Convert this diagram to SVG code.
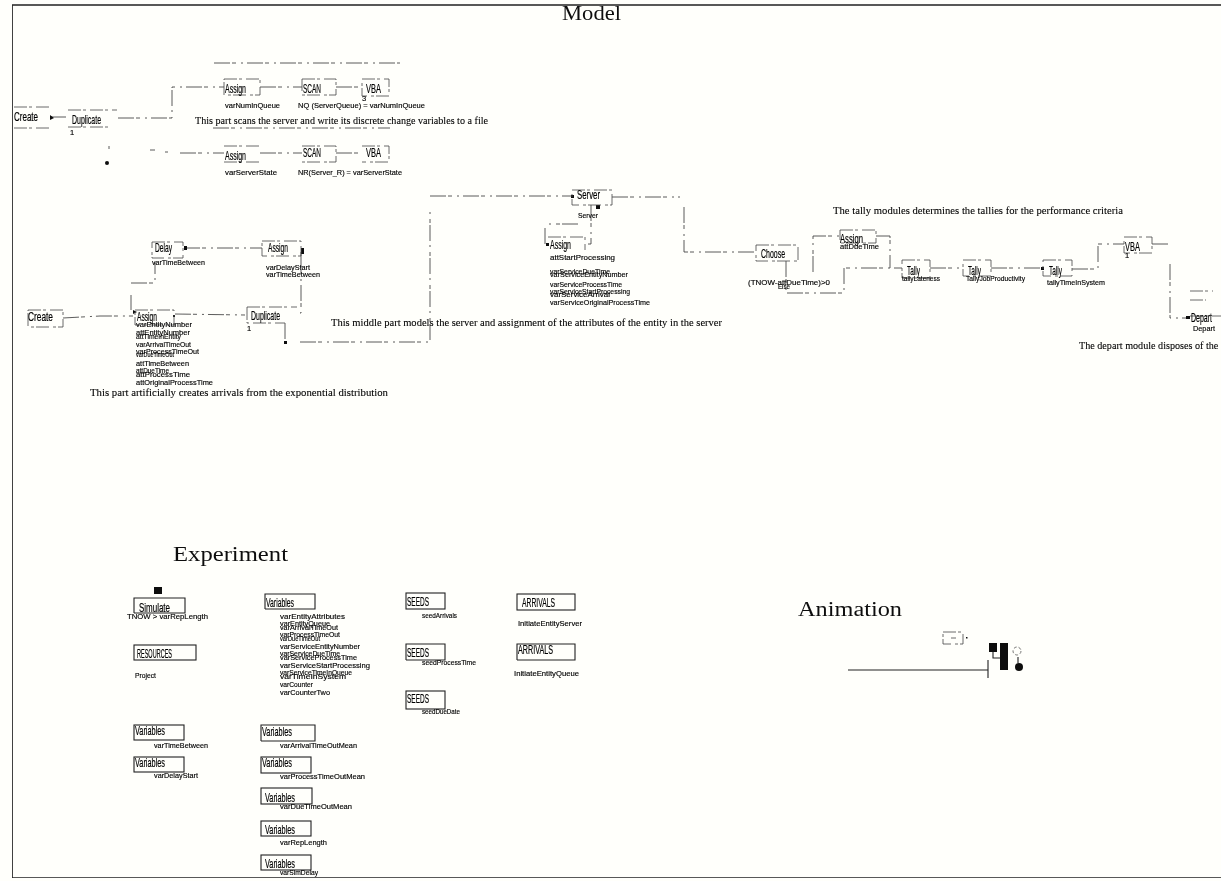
<svg xmlns="http://www.w3.org/2000/svg" width="1221" height="881" viewBox="0 0 1221 881">
<style>
.n{fill:none;stroke:#444;stroke-width:.8;stroke-dasharray:13 2 3 4}
.s{fill:none;stroke:#222;stroke-width:1.1}
.c{fill:none;stroke:#333;stroke-width:.8;stroke-dasharray:16 2 4 5 2 4}
.k{fill:#111;stroke:none}
.t{font:13px "Liberation Sans",sans-serif;fill:#000;stroke:#000;stroke-width:.2}
.l{font:7.5px "Liberation Sans",sans-serif;fill:#000;stroke:#000;stroke-width:.15}
.d{font:10.5px "Liberation Serif",serif;fill:#000;stroke:#000;stroke-width:.1}
.h{font:20px "Liberation Serif",serif;fill:#111}
</style>
<defs><filter id="b" x="0" y="0" width="100%" height="100%"><feGaussianBlur stdDeviation=".3"/></filter></defs>
<rect width="1221" height="881" fill="#fffffb"/>
<g filter="url(#b)">
<path id="frame" d="M1221 5H12V878H1221" fill="none" stroke="#222" stroke-width="1.7"/>
<g id="titles">
<text class="h" x="562" y="20" textLength="59" lengthAdjust="spacingAndGlyphs">Model</text>
<text class="h" x="173" y="561" textLength="115" lengthAdjust="spacingAndGlyphs">Experiment</text>
<text class="h" x="798" y="616" textLength="104" lengthAdjust="spacingAndGlyphs">Animation</text>
</g>
<g id="descriptions">
<text class="d" x="195" y="124" textLength="293" lengthAdjust="spacingAndGlyphs">This part scans the server and write its discrete change variables to a file</text>
<text class="d" x="90" y="396" textLength="298" lengthAdjust="spacingAndGlyphs">This part artificially creates arrivals from the exponential distribution</text>
<text class="d" x="331" y="326" textLength="391" lengthAdjust="spacingAndGlyphs">This middle part models the server and assignment of the attributes of the entity in the server</text>
<text class="d" x="833" y="214" textLength="290" lengthAdjust="spacingAndGlyphs">The tally modules determines the tallies for the performance criteria</text>
<text class="d" x="1079" y="349" textLength="165" lengthAdjust="spacingAndGlyphs">The depart module disposes of the entity</text>
</g>
<g id="connectors">
<path class="c" d="M118 118H172V87H224M260 87H302M336 87H362"/>
<path class="c" d="M214 63H400M213 128H390"/>
<path class="c" d="M50 117H68M109 146v3M150 150h5M165 152h3M180 153H224M260 153H302M336 153H362"/>
<path class="c" d="M63 318L100 316H133M175 314L245 315"/>
<path class="c" d="M131 310V295M131 283H155V262M184 248H262"/>
<path class="c" d="M301 252V313H297M285 323V342M300 342H430V212"/>
<path class="c" d="M430 196H572M612 197H680M684 207V252H756"/>
<path class="c" d="M591 205V244H588M578 224H548M545 228V245"/>
<path class="c" d="M786 261V293H844V268H902M813 272V236H840M876 236H890V268"/>
<path class="c" d="M930 268H963M991 268H1043M1072 269H1098V244H1124M1152 244H1170M1170 264V318H1186"/>
<path class="k" d="M50 115l4 3-4 2zM133 310l4 2-4 2zM301 248h3v6h-3zM284 341h3v3h-3zM571 195h3v3h-3zM596 205h4v4h-4zM546 243h3v3h-3zM184 246h3v4h-3zM1041 267h3v3h-3zM1186 316h4v3h-4zM173 315h2v2h-2z"/>
<circle class="k" cx="107" cy="163" r="2"/>
</g>
<g id="create1"><path class="n" d="M14 107H50M14 128H50"/><text class="t" x="14" y="121" textLength="24" lengthAdjust="spacingAndGlyphs">Create</text></g>
<g id="duplicate1"><path class="n" d="M68 110H117M68 127H112"/><text class="t" x="72" y="124" textLength="29" lengthAdjust="spacingAndGlyphs">Duplicate</text><text class="l" x="70" y="135">1</text></g>
<g id="assign1"><path class="n" d="M224 79H260V95H224z"/><text class="t" x="225" y="93" textLength="21" lengthAdjust="spacingAndGlyphs">Assign</text><text class="l" x="225" y="108" textLength="55" lengthAdjust="spacingAndGlyphs">varNumInQueue</text></g>
<g id="scan1"><path class="n" d="M302 79H336V95H302z"/><text class="t" x="303" y="93" textLength="18" lengthAdjust="spacingAndGlyphs">SCAN</text><text class="l" x="298" y="108" textLength="127" lengthAdjust="spacingAndGlyphs">NQ (ServerQueue) = varNumInQueue</text></g>
<g id="vba1"><path class="n" d="M362 79H389V96H362z"/><text class="t" x="366" y="93" textLength="15" lengthAdjust="spacingAndGlyphs">VBA</text><text class="l" x="362" y="101">3</text></g>
<g id="assign2"><path class="n" d="M224 146H260M224 162H260"/><text class="t" x="225" y="160" textLength="21" lengthAdjust="spacingAndGlyphs">Assign</text><text class="l" x="225" y="175" textLength="52" lengthAdjust="spacingAndGlyphs">varServerState</text></g>
<g id="scan2"><path class="n" d="M302 146H336V162H302"/><text class="t" x="303" y="157" textLength="18" lengthAdjust="spacingAndGlyphs">SCAN</text><text class="l" x="298" y="175" textLength="104" lengthAdjust="spacingAndGlyphs">NR(Server_R) = varServerState</text></g>
<g id="vba2"><path class="n" d="M362 146H389V162H362"/><text class="t" x="366" y="157" textLength="15" lengthAdjust="spacingAndGlyphs">VBA</text></g>
<g id="delay"><path class="n" d="M152 242H183V258H152z"/><text class="t" x="155" y="252" textLength="17" lengthAdjust="spacingAndGlyphs">Delay</text><text class="l" x="152" y="265" textLength="53" lengthAdjust="spacingAndGlyphs">varTimeBetween</text></g>
<g id="assign3"><path class="n" d="M262 241H301V256H262z"/><text class="t" x="268" y="252" textLength="20" lengthAdjust="spacingAndGlyphs">Assign</text><text class="l" x="266" y="270" textLength="44" lengthAdjust="spacingAndGlyphs">varDelayStart</text><text class="l" x="266" y="277" textLength="54" lengthAdjust="spacingAndGlyphs">varTimeBetween</text></g>
<g id="create2"><path class="n" d="M28 310H63V327H28z"/><text class="t" x="28" y="321" textLength="25" lengthAdjust="spacingAndGlyphs">Create</text></g>
<g id="assign4"><path class="n" d="M135 310H174V325H135z"/><text class="t" x="137" y="321" textLength="20" lengthAdjust="spacingAndGlyphs">Assign</text>
<text class="l" x="136" y="327" textLength="56" lengthAdjust="spacingAndGlyphs">varEntityNumber</text>
<text class="l" x="136" y="335" textLength="54" lengthAdjust="spacingAndGlyphs">attEntityNumber</text>
<text class="l" x="136" y="339" textLength="45" lengthAdjust="spacingAndGlyphs">attTimeInEntity</text>
<text class="l" x="136" y="347" textLength="55" lengthAdjust="spacingAndGlyphs">varArrivalTimeOut</text>
<text class="l" x="136" y="354" textLength="63" lengthAdjust="spacingAndGlyphs">varProcessTimeOut</text>
<text class="l" x="136" y="357" textLength="38" lengthAdjust="spacingAndGlyphs">varDueTimeOut</text>
<text class="l" x="136" y="366" textLength="53" lengthAdjust="spacingAndGlyphs">attTimeBetween</text>
<text class="l" x="136" y="373" textLength="33" lengthAdjust="spacingAndGlyphs">attDueTime</text>
<text class="l" x="136" y="377" textLength="54" lengthAdjust="spacingAndGlyphs">attProcessTime</text>
<text class="l" x="136" y="385" textLength="77" lengthAdjust="spacingAndGlyphs">attOriginalProcessTime</text></g>
<g id="duplicate2"><path class="n" d="M247 307H297M247 307V323H285"/><text class="t" x="251" y="320" textLength="29" lengthAdjust="spacingAndGlyphs">Duplicate</text><text class="l" x="247" y="331">1</text></g>
<g id="server"><path class="n" d="M572 190H612V205H572z"/><text class="t" x="577" y="199" textLength="23" lengthAdjust="spacingAndGlyphs">Server</text><text class="l" x="578" y="218" textLength="20" lengthAdjust="spacingAndGlyphs">Server</text></g>
<g id="assign5"><path class="n" d="M548 237H585V250"/><text class="t" x="550" y="249" textLength="21" lengthAdjust="spacingAndGlyphs">Assign</text>
<text class="l" x="550" y="260" textLength="65" lengthAdjust="spacingAndGlyphs">attStartProcessing</text>
<text class="l" x="550" y="274" textLength="60" lengthAdjust="spacingAndGlyphs">varServiceDueTime</text>
<text class="l" x="550" y="277" textLength="78" lengthAdjust="spacingAndGlyphs">varServiceEntityNumber</text>
<text class="l" x="550" y="287" textLength="72" lengthAdjust="spacingAndGlyphs">varServiceProcessTime</text>
<text class="l" x="550" y="294" textLength="80" lengthAdjust="spacingAndGlyphs">varServiceStartProcessing</text>
<text class="l" x="550" y="297" textLength="60" lengthAdjust="spacingAndGlyphs">varServiceArrival</text>
<text class="l" x="550" y="305" textLength="100" lengthAdjust="spacingAndGlyphs">varServiceOriginalProcessTime</text></g>
<g id="choose"><path class="n" d="M756 245H798V261H756z"/><text class="t" x="761" y="258" textLength="24" lengthAdjust="spacingAndGlyphs">Choose</text><text class="l" x="748" y="285" textLength="82" lengthAdjust="spacingAndGlyphs">(TNOW-attDueTime)&gt;0</text><text class="l" x="778" y="289" textLength="12" lengthAdjust="spacingAndGlyphs">Else</text></g>
<g id="assign6"><path class="n" d="M840 230H876V243H840z"/><text class="t" x="840" y="243" textLength="23" lengthAdjust="spacingAndGlyphs">Assign</text><text class="l" x="840" y="249" textLength="39" lengthAdjust="spacingAndGlyphs">attDueTime</text></g>
<g id="tally1"><path class="n" d="M902 260H930V278H902z"/><text class="t" x="907" y="275" textLength="13" lengthAdjust="spacingAndGlyphs">Tally</text><text class="l" x="902" y="281" textLength="38" lengthAdjust="spacingAndGlyphs">tallyLateness</text></g>
<g id="tally2"><path class="n" d="M963 260H991V276H963z"/><text class="t" x="968" y="275" textLength="13" lengthAdjust="spacingAndGlyphs">Tally</text><text class="l" x="966" y="281" textLength="59" lengthAdjust="spacingAndGlyphs">TallyJobProductivity</text></g>
<g id="tally3"><path class="n" d="M1043 260H1072V276H1043z"/><text class="t" x="1049" y="275" textLength="13" lengthAdjust="spacingAndGlyphs">Tally</text><text class="l" x="1047" y="285" textLength="58" lengthAdjust="spacingAndGlyphs">tallyTimeInSystem</text></g>
<g id="vba3"><path class="n" d="M1124 237H1152V253H1124z"/><text class="t" x="1125" y="251" textLength="15" lengthAdjust="spacingAndGlyphs">VBA</text><text class="l" x="1125" y="258">1</text></g>
<g id="depart"><path class="n" d="M1190 291H1213M1190 300H1206M1190 316H1221"/><text class="t" x="1191" y="322" textLength="21" lengthAdjust="spacingAndGlyphs">Depart</text><text class="l" x="1193" y="331" textLength="22" lengthAdjust="spacingAndGlyphs">Depart</text></g>
<g id="simulate"><rect class="k" x="154" y="587" width="8" height="7"/><path class="s" d="M134 613V598H185V613H134"/><text class="t" x="139" y="612" textLength="31" lengthAdjust="spacingAndGlyphs">Simulate</text><text class="l" x="127" y="619" textLength="81" lengthAdjust="spacingAndGlyphs">TNOW &gt; varRepLength</text></g>
<g id="resources"><rect class="s" x="134" y="645" width="62" height="15"/><text class="t" x="137" y="658" textLength="35" lengthAdjust="spacingAndGlyphs">RESOURCES</text><text class="l" x="135" y="678" textLength="21" lengthAdjust="spacingAndGlyphs">Project</text></g>
<g id="vars1"><rect class="s" x="134" y="725" width="50" height="15"/><text class="t" x="135" y="735" textLength="30" lengthAdjust="spacingAndGlyphs">Variables</text><text class="l" x="154" y="748" textLength="54" lengthAdjust="spacingAndGlyphs">varTimeBetween</text></g>
<g id="vars2"><rect class="s" x="134" y="757" width="50" height="15"/><text class="t" x="135" y="767" textLength="30" lengthAdjust="spacingAndGlyphs">Variables</text><text class="l" x="154" y="778" textLength="44" lengthAdjust="spacingAndGlyphs">varDelayStart</text></g>
<g id="vars3"><path class="s" d="M265 609V594H315V609H265"/><text class="t" x="266" y="607" textLength="28" lengthAdjust="spacingAndGlyphs">Variables</text>
<text class="l" x="280" y="619" textLength="65" lengthAdjust="spacingAndGlyphs">varEntityAttributes</text>
<text class="l" x="280" y="626" textLength="50" lengthAdjust="spacingAndGlyphs">varEntityQueue</text>
<text class="l" x="280" y="630" textLength="58" lengthAdjust="spacingAndGlyphs">varArrivalTimeOut</text>
<text class="l" x="280" y="637" textLength="60" lengthAdjust="spacingAndGlyphs">varProcessTimeOut</text>
<text class="l" x="280" y="641" textLength="40" lengthAdjust="spacingAndGlyphs">varDueTimeOut</text>
<text class="l" x="280" y="649" textLength="80" lengthAdjust="spacingAndGlyphs">varServiceEntityNumber</text>
<text class="l" x="280" y="656" textLength="60" lengthAdjust="spacingAndGlyphs">varServiceDueTime</text>
<text class="l" x="280" y="660" textLength="77" lengthAdjust="spacingAndGlyphs">varServiceProcessTime</text>
<text class="l" x="280" y="668" textLength="90" lengthAdjust="spacingAndGlyphs">varServiceStartProcessing</text>
<text class="l" x="280" y="675" textLength="72" lengthAdjust="spacingAndGlyphs">varServiceTimeInQueue</text>
<text class="l" x="280" y="679" textLength="66" lengthAdjust="spacingAndGlyphs">varTimeInSystem</text>
<text class="l" x="280" y="687" textLength="33" lengthAdjust="spacingAndGlyphs">varCounter</text>
<text class="l" x="280" y="695" textLength="50" lengthAdjust="spacingAndGlyphs">varCounterTwo</text></g>
<g id="vars4"><path class="s" d="M261 741V725H315V741H261"/><text class="t" x="262" y="736" textLength="30" lengthAdjust="spacingAndGlyphs">Variables</text><text class="l" x="280" y="748" textLength="77" lengthAdjust="spacingAndGlyphs">varArrivalTimeOutMean</text></g>
<g id="vars5"><rect class="s" x="261" y="757" width="50" height="16"/><text class="t" x="262" y="767" textLength="30" lengthAdjust="spacingAndGlyphs">Variables</text><text class="l" x="280" y="779" textLength="85" lengthAdjust="spacingAndGlyphs">varProcessTimeOutMean</text></g>
<g id="vars6"><rect class="s" x="261" y="788" width="51" height="16"/><text class="t" x="265" y="802" textLength="30" lengthAdjust="spacingAndGlyphs">Variables</text><text class="l" x="280" y="809" textLength="72" lengthAdjust="spacingAndGlyphs">varDueTimeOutMean</text></g>
<g id="vars7"><rect class="s" x="261" y="821" width="50" height="15"/><text class="t" x="265" y="834" textLength="30" lengthAdjust="spacingAndGlyphs">Variables</text><text class="l" x="280" y="845" textLength="47" lengthAdjust="spacingAndGlyphs">varRepLength</text></g>
<g id="vars8"><rect class="s" x="261" y="855" width="50" height="15"/><text class="t" x="265" y="868" textLength="30" lengthAdjust="spacingAndGlyphs">Variables</text><text class="l" x="280" y="875" textLength="38" lengthAdjust="spacingAndGlyphs">varSimDelay</text></g>
<g id="seeds1"><rect class="s" x="406" y="593" width="39" height="16"/><text class="t" x="407" y="606" textLength="22" lengthAdjust="spacingAndGlyphs">SEEDS</text><text class="l" x="422" y="618" textLength="35" lengthAdjust="spacingAndGlyphs">seedArrivals</text></g>
<g id="seeds2"><path class="s" d="M406 660V644H445V660H406"/><text class="t" x="407" y="657" textLength="22" lengthAdjust="spacingAndGlyphs">SEEDS</text><text class="l" x="422" y="665" textLength="54" lengthAdjust="spacingAndGlyphs">seedProcessTime</text></g>
<g id="seeds3"><rect class="s" x="406" y="691" width="39" height="18"/><text class="t" x="407" y="703" textLength="22" lengthAdjust="spacingAndGlyphs">SEEDS</text><text class="l" x="422" y="714" textLength="38" lengthAdjust="spacingAndGlyphs">seedDueDate</text></g>
<g id="arrivals1"><rect class="s" x="517" y="594" width="58" height="16"/><text class="t" x="522" y="607" textLength="33" lengthAdjust="spacingAndGlyphs">ARRIVALS</text><text class="l" x="518" y="626" textLength="64" lengthAdjust="spacingAndGlyphs">InitiateEntityServer</text></g>
<g id="arrivals2"><path class="s" d="M517 660V644H575V660H517"/><text class="t" x="518" y="654" textLength="35" lengthAdjust="spacingAndGlyphs">ARRIVALS</text><text class="l" x="514" y="676" textLength="65" lengthAdjust="spacingAndGlyphs">InitiateEntityQueue</text></g>
<g id="animation">
<path class="n" d="M943 632H963V644H943zM951 638h5"/>
<rect class="k" x="966" y="637" width="1.500" height="1.500"/>
<path class="s" d="M848 670H988M988 660V678"/>
<rect class="k" x="989" y="643" width="8" height="9"/>
<path class="s" d="M993 652V658H1000"/>
<rect class="k" x="1000" y="643" width="8" height="27"/>
<circle cx="1017" cy="651" r="4" fill="none" stroke="#555" stroke-width=".8" stroke-dasharray="3 2"/>
<path class="s" d="M1018 657V663"/>
<circle class="k" cx="1019" cy="667" r="4"/>
</g>
</g>
</svg>
